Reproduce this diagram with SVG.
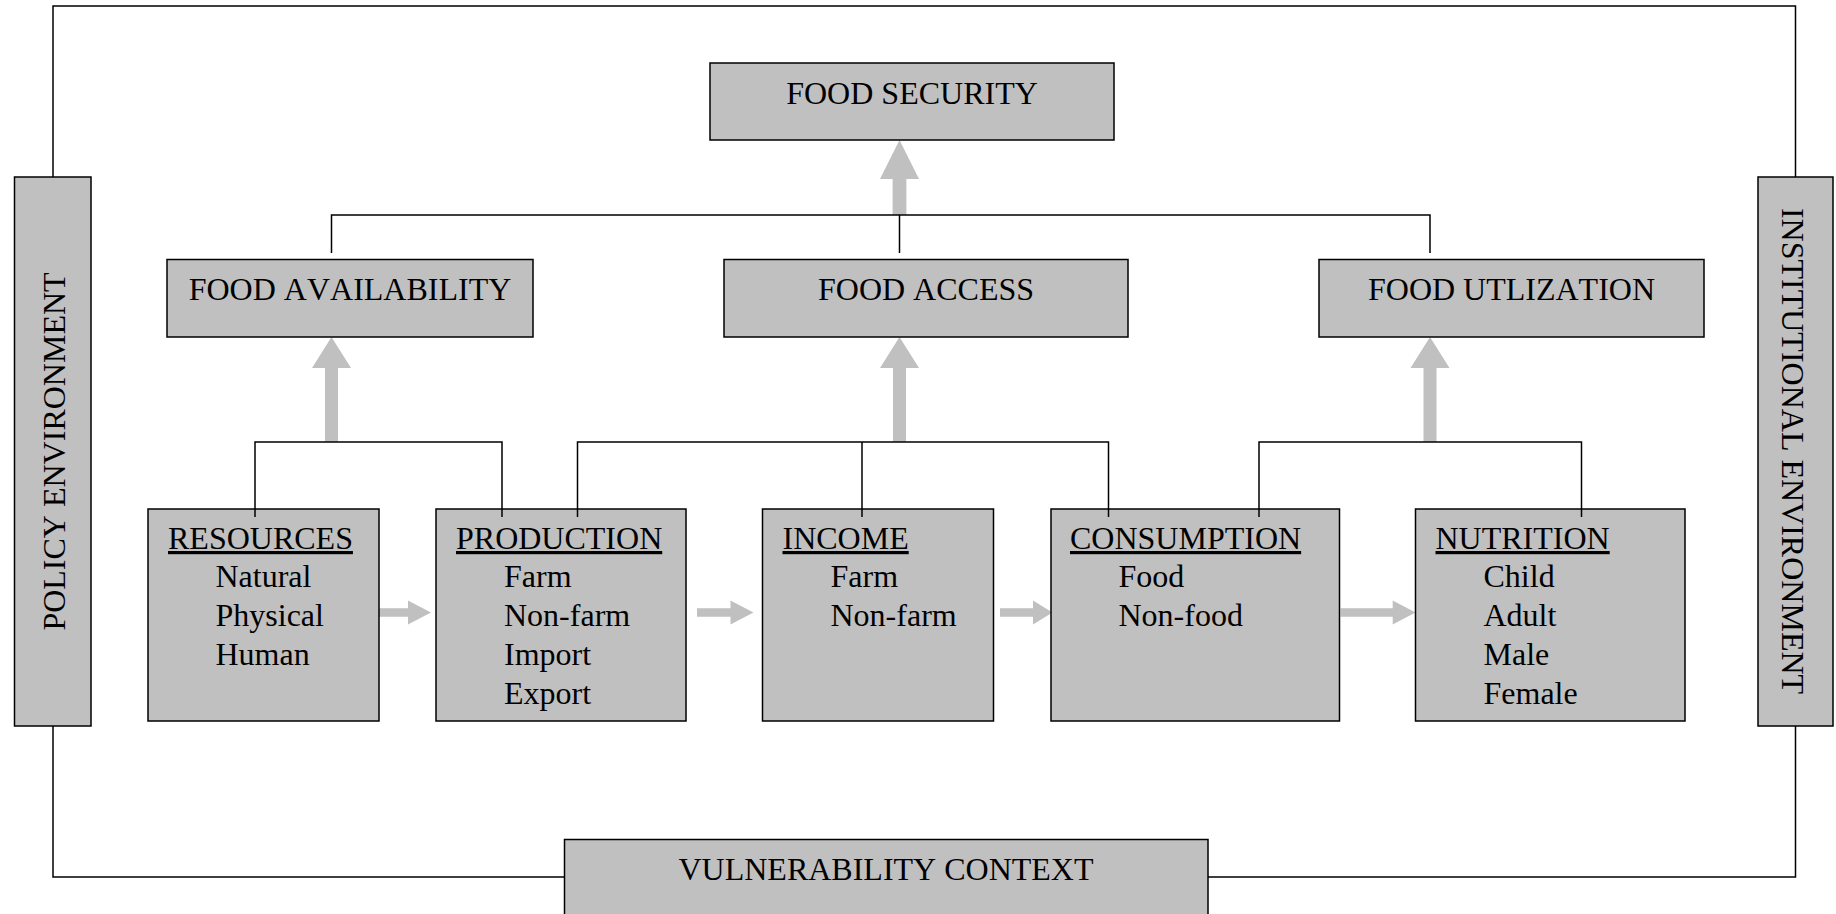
<svg xmlns="http://www.w3.org/2000/svg" width="1836" height="914" viewBox="0 0 1836 914">
<style>
.box{fill:#c0c0c0;stroke:#000;stroke-width:1.5}
.t{font-family:"Liberation Serif","Times New Roman",serif;font-size:32px;font-kerning:none;fill:#000}
.c{text-anchor:middle}
.h{text-decoration:underline}
.ln{fill:none;stroke:#000;stroke-width:1.5}
.ar{fill:#c0c0c0;stroke:none}
</style>
<rect width="1836" height="914" fill="#fff"/>
<g id="arrows">
<polygon class="ar" points="899.5,140 919,179 906.4,179 906.4,215 892.6,215 892.6,179 880,179"/>
<polygon class="ar" points="331.5,337 351,368 338,368 338,442 325,442 325,368 312,368"/>
<polygon class="ar" points="899.5,337 919,368 906,368 906,442 893,442 893,368 880,368"/>
<polygon class="ar" points="1430,337 1449.5,368 1436.5,368 1436.5,442 1423.5,442 1423.5,368 1410.5,368"/>
<polygon class="ar" points="431,612.5 408,600.5 408,608.2 379,608.2 379,616.8 408,616.8 408,624.5"/>
<polygon class="ar" points="753.5,612.5 730.5,600.5 730.5,608.2 697,608.2 697,616.8 730.5,616.8 730.5,624.5"/>
<polygon class="ar" points="1052.5,612.5 1033,600.5 1033,608.2 1000,608.2 1000,616.8 1033,616.8 1033,624.5"/>
<polygon class="ar" points="1415.5,612.5 1392.7,600.5 1392.7,608.2 1340.6,608.2 1340.6,616.8 1392.7,616.8 1392.7,624.5"/>
</g>
<g id="policy-environment">
<rect class="box" x="14.5" y="177" width="76.5" height="549"/>
<text class="t c" transform="translate(65,451.5) rotate(-90)">POLICY ENVIRONMENT</text>
</g>
<g id="institutional-environment">
<rect class="box" x="1758" y="177" width="75" height="549"/>
<text class="t c" transform="translate(1782,451) rotate(90)">INSTITUTIONAL ENVIRONMENT</text>
</g>
<g id="vulnerability-context">
<rect class="box" x="564.5" y="839.5" width="643.5" height="90"/>
<text class="t c" x="886" y="880">VULNERABILITY CONTEXT</text>
</g>
<g id="food-security">
<rect class="box" x="710" y="63" width="404" height="77"/>
<text class="t c" x="912" y="104">FOOD SECURITY</text>
</g>
<g id="food-availability">
<rect class="box" x="167" y="259.5" width="366" height="77.5"/>
<text class="t c" x="350" y="300">FOOD AVAILABILITY</text>
</g>
<g id="food-access">
<rect class="box" x="724" y="259.5" width="404" height="77.5"/>
<text class="t c" x="926" y="300">FOOD ACCESS</text>
</g>
<g id="food-utilization">
<rect class="box" x="1319" y="259.5" width="385" height="77.5"/>
<text class="t c" x="1511.5" y="300">FOOD UTLIZATION</text>
</g>
<g id="resources">
<rect class="box" x="148" y="509" width="231" height="212"/>
<text class="t h" x="168" y="549">RESOURCES</text>
<text class="t" x="215.5" y="587">Natural</text>
<text class="t" x="215.5" y="626">Physical</text>
<text class="t" x="215.5" y="665">Human</text>
</g>
<g id="production">
<rect class="box" x="436" y="509" width="250" height="212"/>
<text class="t h" x="456" y="549">PRODUCTION</text>
<text class="t" x="504" y="587">Farm</text>
<text class="t" x="504" y="626">Non-farm</text>
<text class="t" x="504" y="665">Import</text>
<text class="t" x="504" y="704">Export</text>
</g>
<g id="income">
<rect class="box" x="762.5" y="509" width="231" height="212"/>
<text class="t h" x="782.5" y="549">INCOME</text>
<text class="t" x="830.5" y="587">Farm</text>
<text class="t" x="830.5" y="626">Non-farm</text>
</g>
<g id="consumption">
<rect class="box" x="1051" y="509" width="288.5" height="212"/>
<text class="t h" x="1070" y="549">CONSUMPTION</text>
<text class="t" x="1118.5" y="587">Food</text>
<text class="t" x="1118.5" y="626">Non-food</text>
</g>
<g id="nutrition">
<rect class="box" x="1415.5" y="509" width="269.5" height="212"/>
<text class="t h" x="1435.5" y="549">NUTRITION</text>
<text class="t" x="1483.5" y="587">Child</text>
<text class="t" x="1483.5" y="626">Adult</text>
<text class="t" x="1483.5" y="665">Male</text>
<text class="t" x="1483.5" y="704">Female</text>
</g>
<g id="connectors">
<polyline class="ln" points="53,177 53,6 1795.5,6 1795.5,177"/>
<polyline class="ln" points="53,726 53,877 564.5,877"/>
<polyline class="ln" points="1208,877 1795.5,877 1795.5,726"/>
<polyline class="ln" points="331.5,253 331.5,215 1430,215 1430,253"/>
<line class="ln" x1="899.5" y1="215" x2="899.5" y2="253"/>
<polyline class="ln" points="255,517 255,442 502,442 502,517"/>
<polyline class="ln" points="577.5,517 577.5,442 1108.5,442 1108.5,517"/>
<line class="ln" x1="862" y1="442" x2="862" y2="517"/>
<polyline class="ln" points="1259,517 1259,442 1581.5,442 1581.5,517"/>
</g>
</svg>
